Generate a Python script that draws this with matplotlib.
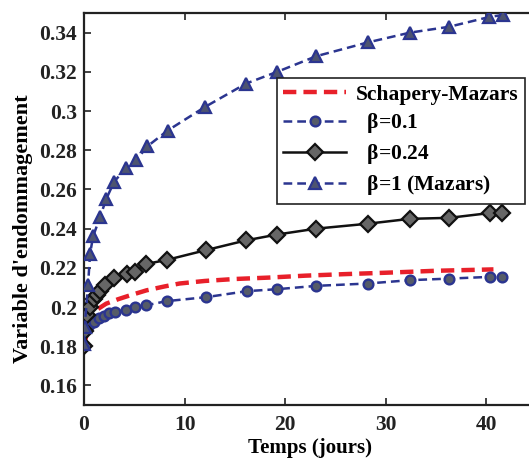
import numpy as np
import matplotlib
matplotlib.use('Agg')
import matplotlib.pyplot as plt
from matplotlib.ticker import FuncFormatter

plt.rcParams['font.family'] = ['Liberation Serif', 'DejaVu Serif']
plt.rcParams['font.weight'] = 'bold'
plt.rcParams['mathtext.default'] = 'regular'

# Schapery-Mazars (continuous curve)
t_sm = [0, 0.5, 1.2, 2.2, 3.4, 4.6, 6.2, 8.0, 9.5, 12, 15, 18.3, 22, 26, 30, 35, 40.7]
d_sm = [0.180, 0.192, 0.1984, 0.2017, 0.204, 0.206, 0.2085, 0.2105, 0.212, 0.2133,
        0.2143, 0.215, 0.216, 0.2168, 0.2175, 0.2185, 0.2192]

# beta = 0.1
t_b01 = [0, 0.2, 0.5, 1.0, 1.5, 2.0, 2.5, 3.1, 4.2, 5.1, 6.2, 8.2, 12.1, 16.2,
         19.2, 23.1, 28.2, 32.4, 36.3, 40.4, 41.5]
d_b01 = [0.180, 0.1892, 0.191, 0.1925, 0.1942, 0.1956, 0.1968, 0.1976, 0.1984,
         0.1998, 0.2009, 0.2030, 0.2050, 0.2081, 0.2091, 0.2108, 0.2120, 0.2137,
         0.2145, 0.2154, 0.2154]

# beta = 0.24
t_b024 = [0, 0.1, 0.3, 0.6, 1.0, 1.3, 1.6, 2.1, 3.0, 4.3, 5.1, 6.2, 8.2, 12.1,
          16.1, 19.2, 23.1, 28.2, 32.4, 36.3, 40.4, 41.5]
d_b024 = [0.180, 0.188, 0.196, 0.200, 0.204, 0.206, 0.208, 0.211, 0.215, 0.217,
          0.218, 0.222, 0.224, 0.229, 0.234, 0.237, 0.240, 0.2425, 0.245, 0.2455,
          0.248, 0.248]

# beta = 1 (Mazars)
t_b1 = [0, 0.07, 0.4, 0.6, 0.9, 1.6, 2.2, 3.0, 4.2, 5.2, 6.3, 8.3, 12.0, 16.1,
        19.2, 23.1, 28.2, 32.4, 36.3, 40.3, 41.6]
d_b1 = [0.181, 0.190, 0.211, 0.227, 0.236, 0.246, 0.255, 0.264, 0.271, 0.275,
        0.282, 0.290, 0.302, 0.314, 0.320, 0.328, 0.335, 0.340, 0.343, 0.348, 0.349]

xticks = [0, 10, 20, 30, 40]
yticks = [0.16, 0.18, 0.2, 0.22, 0.24, 0.26, 0.28, 0.3, 0.32, 0.34]

blue = '#2b3590'
fig = plt.figure(figsize=(5.29, 4.59), dpi=100)
ax = fig.add_axes([0.1588, 0.1176, 0.8558, 0.854])

ax.plot(t_sm, d_sm, '--', color='#e8202a', lw=3.2, dashes=(3, 1.6),
        label='Schapery-Mazars', zorder=2)
ax.plot(t_b01, d_b01, '--', color=blue, lw=1.8, dashes=(3.5, 2), marker='o',
        ms=7, mfc='#555b68', mec=blue, mew=1.7, label=r'  $\beta$=0.1', zorder=3)
ax.plot(t_b024, d_b024, '-', color='#111111', lw=1.8, marker='D',
        ms=8, mfc='#666666', mec='#111111', mew=1.6, label=r'  $\beta$=0.24', zorder=3)
ax.plot(t_b1, d_b1, '--', color=blue, lw=1.8, dashes=(3.5, 2), marker='^',
        ms=8.5, mfc='#4d5470', mec=blue, mew=1.6, label=r'  $\beta$=1 (Mazars)', zorder=4)

ax.set_xlim(0, 45)
ax.set_ylim(0.15, 0.35)
ax.set_xticks(xticks)
ax.set_yticks(yticks)
ax.yaxis.set_major_formatter(FuncFormatter(lambda v, p: '%g' % v))
ax.tick_params(direction='in', top=True, right=False, length=5, width=1.2,
               labelsize=15.5, colors='#222222')
ax.tick_params(axis='x', pad=7)
ax.tick_params(axis='y', pad=5)
for s in ax.spines.values():
    s.set_linewidth(1.6)
    s.set_color('#222222')

ax.set_xlabel('Temps (jours)', fontsize=15, fontweight='bold')
ax.xaxis.set_label_coords(0.5, -0.084)
ax.set_ylabel("Variable d'endommagement", fontsize=16, fontweight='bold')
ax.yaxis.set_label_coords(-0.112, 0.45)

leg = ax.legend(loc='upper left', bbox_to_anchor=(277 / 529, 1 - 78 / 459),
                bbox_transform=fig.transFigure, borderaxespad=0, fontsize=15.5,
                handlelength=2.9, fancybox=False, framealpha=1, edgecolor='#222222',
                labelspacing=0.32, borderpad=0.3, handletextpad=0.45)
leg.get_frame().set_linewidth(1.2)

plt.savefig('out.png', dpi=100)
